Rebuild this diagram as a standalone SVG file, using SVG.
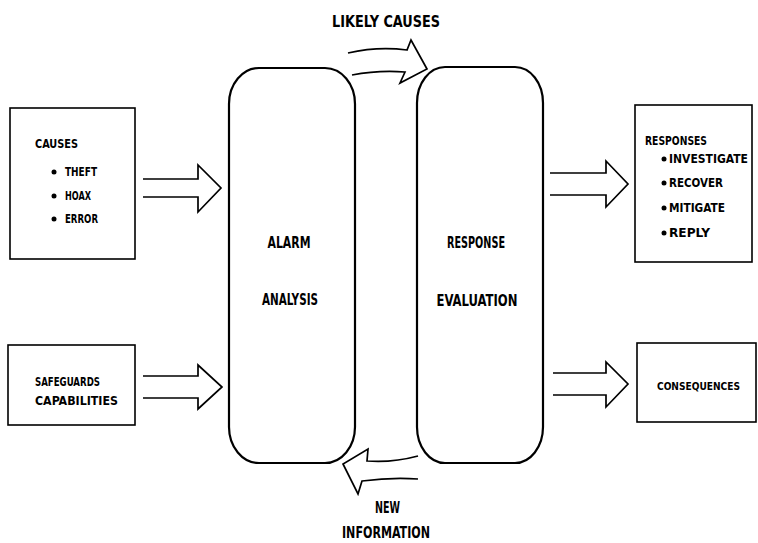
<svg xmlns="http://www.w3.org/2000/svg" width="758" height="543" viewBox="0 0 758 543">
<style>
.box{fill:none;stroke:#000;stroke-width:1.6}
.big{fill:none;stroke:#000;stroke-width:2.2}
.arr{fill:none;stroke:#000;stroke-width:1.7;stroke-linejoin:miter}
text{font-family:"DejaVu Sans Condensed","Liberation Sans Narrow","Liberation Sans",sans-serif;fill:#000;font-weight:bold}
.s{font-size:12.5px}
.l{font-size:16.5px}
.dot{fill:#000}
</style>
<rect width="758" height="543" fill="#fff"/>
<g id="causes">
<rect class="box" x="10" y="108" width="125" height="151"/>
<text class="s" x="35" y="148" textLength="43" lengthAdjust="spacingAndGlyphs">CAUSES</text>
<circle class="dot" cx="54" cy="172" r="2.5"/>
<text class="s" x="65" y="176" textLength="32" lengthAdjust="spacingAndGlyphs">THEFT</text>
<circle class="dot" cx="54" cy="196" r="2.5"/>
<text class="s" x="65" y="200" textLength="26" lengthAdjust="spacingAndGlyphs">HOAX</text>
<circle class="dot" cx="54" cy="219" r="2.5"/>
<text class="s" x="65" y="223" textLength="33" lengthAdjust="spacingAndGlyphs">ERROR</text>
</g>
<g id="safeguards">
<rect class="box" x="8" y="345" width="127" height="80"/>
<text class="s" x="35" y="386" textLength="65" lengthAdjust="spacingAndGlyphs">SAFEGUARDS</text>
<text class="s" x="35" y="405" textLength="83" lengthAdjust="spacingAndGlyphs">CAPABILITIES</text>
</g>
<g id="alarm-analysis">
<rect class="big" x="229" y="68" width="126" height="395" rx="30" ry="36"/>
<text class="l" x="289" y="248" text-anchor="middle" textLength="43" lengthAdjust="spacingAndGlyphs">ALARM</text>
<text class="l" x="290" y="305" text-anchor="middle" textLength="56" lengthAdjust="spacingAndGlyphs">ANALYSIS</text>
</g>
<g id="response-evaluation">
<rect class="big" x="417" y="67" width="126" height="396" rx="28" ry="36"/>
<text class="l" x="476" y="248" text-anchor="middle" textLength="58" lengthAdjust="spacingAndGlyphs">RESPONSE</text>
<text class="l" x="477" y="306" text-anchor="middle" textLength="81" lengthAdjust="spacingAndGlyphs">EVALUATION</text>
</g>
<g id="responses">
<rect class="box" x="635" y="105" width="117" height="157"/>
<text class="s" x="645" y="145" textLength="62" lengthAdjust="spacingAndGlyphs">RESPONSES</text>
<circle class="dot" cx="664" cy="159" r="2.5"/>
<text class="s" x="669" y="163" textLength="79" lengthAdjust="spacingAndGlyphs">INVESTIGATE</text>
<circle class="dot" cx="664" cy="183" r="2.5"/>
<text class="s" x="669" y="187" textLength="54" lengthAdjust="spacingAndGlyphs">RECOVER</text>
<circle class="dot" cx="664" cy="208" r="2.5"/>
<text class="s" x="669" y="212" textLength="56" lengthAdjust="spacingAndGlyphs">MITIGATE</text>
<circle class="dot" cx="664" cy="233" r="2.5"/>
<text class="s" x="669" y="237" textLength="41" lengthAdjust="spacingAndGlyphs">REPLY</text>
</g>
<g id="consequences">
<rect class="box" x="637" y="343" width="119" height="79"/>
<text x="657" y="390" font-size="11" textLength="83" lengthAdjust="spacingAndGlyphs">CONSEQUENCES</text>
</g>
<g id="connectors">
<path class="arr" d="M143,179 H198 V165 L221,188 L198,212 V197 H143"/>
<path class="arr" d="M143,376 H198 V365 L222,387 L198,409 V398 H143"/>
<path class="arr" d="M550,173 H606 V161 L628,184 L606,207 V195 H550"/>
<path class="arr" d="M553,373 H606 V362 L628,384 L606,407 V395 H553"/>
<path class="arr" d="M348,53 Q378,46 407,50 L411,40 L427,69 L400,83 L405,72 Q378,70 352,75"/>
<path class="arr" d="M418,456 Q392,463 367,461 L368,449 L343,464 L358,494 L362,481 Q392,477 418,479"/>
<text class="l" x="332" y="27" textLength="108" lengthAdjust="spacingAndGlyphs">LIKELY CAUSES</text>
<text class="l" x="375" y="513" textLength="25" lengthAdjust="spacingAndGlyphs">NEW</text>
<text class="l" x="342" y="538" textLength="88" lengthAdjust="spacingAndGlyphs">INFORMATION</text>
</g>
</svg>
